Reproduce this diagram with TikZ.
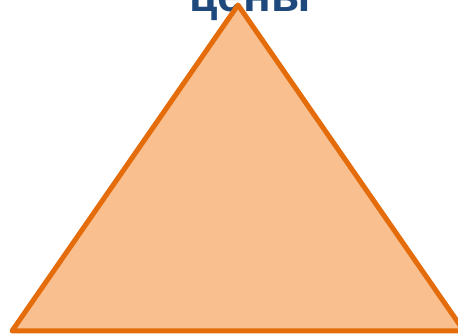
\documentclass[tikz,border=0pt]{standalone}
\usepackage{fontspec}
\setmainfont{Liberation Sans}
\usepackage{tikz}
\usetikzlibrary{positioning}
\usepackage{xcolor}
\definecolor{Navy}{HTML}{1F497D}
\definecolor{Rust}{HTML}{E46C0A}
\definecolor{Peach}{HTML}{F9BF8F}

\begin{document}
\begin{tikzpicture}[x=1pt,y=1pt]
  \useasboundingbox (0,0) rectangle (458,336);
  \clip (0,0) rectangle (458,336);
  \node[anchor=base,font=\bfseries\fontsize{46}{50}\selectfont,text=Navy,inner sep=0pt] (title) at (250,324) {цены};
  \draw[draw=Rust,fill=Peach,line width=5pt,line join=round] (238,331) -- (12,5) -- (464,5) -- cycle;
\end{tikzpicture}
\end{document}
